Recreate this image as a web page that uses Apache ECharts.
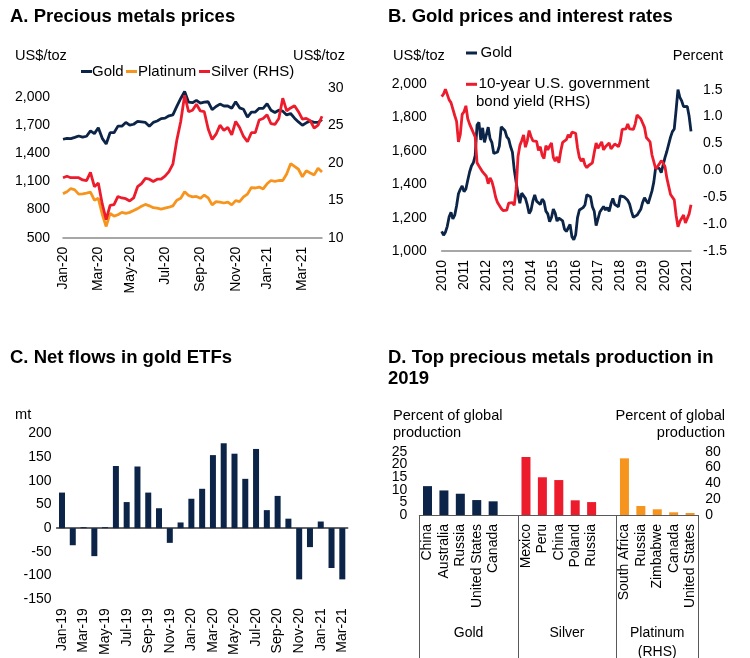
<!DOCTYPE html>
<html>
<head>
<meta charset="utf-8">
<script src="https://cdn.jsdelivr.net/npm/echarts/dist/echarts.min.js"></script>
<style>
  html, body { margin: 0; padding: 0; background: #fff; }
  #chart { width: 750px; height: 658px; }
</style>
</head>
<body>
<div id="chart"></div>
<script>
// ---------- Panel A: weekly precious metals prices (US$/toz), Jan 2020 - Apr 2021 ----------
const priceWeekStart = [2020, 0, 3];
const goldWeekly = [1550,1560,1557,1570,1585,1572,1582,1640,1610,1672,1560,1500,1620,1620,1690,1690,1730,1700,1710,1740,
  1735,1730,1690,1730,1745,1770,1775,1800,1810,1900,1985,2060,1945,1940,1965,1935,1945,1950,1865,1900,
  1925,1905,1905,1880,1950,1885,1870,1785,1840,1840,1880,1880,1930,1860,1835,1860,1850,1810,1825,1775,
  1735,1700,1725,1745,1730,1730,1760];
const platinumWeekly = [970,990,1025,1010,965,968,975,985,900,920,750,620,760,730,745,770,760,770,790,810,
  835,855,840,820,815,805,815,825,840,900,920,990,950,935,940,920,955,925,850,885,
  880,870,880,850,895,885,935,965,1035,1030,1040,1020,1075,1110,1100,1110,1110,1180,1290,1260,
  1230,1150,1215,1190,1170,1240,1200];
const silverWeekly = [18.0,18.2,18.0,18.0,18.0,17.7,17.6,18.7,16.8,17.3,14.5,12.4,14.3,14.4,15.5,15.3,15.2,14.9,15.3,16.8,
  17.2,17.9,17.8,17.5,17.8,17.8,18.2,18.8,19.8,23.0,25.5,29.0,26.8,27.0,27.8,26.9,26.8,24.5,23.1,23.8,
  25.0,24.3,24.7,23.7,25.5,24.7,23.5,22.8,24.0,24.0,25.7,25.9,26.4,25.2,25.1,25.9,28.6,26.9,27.3,27.6,
  26.8,25.8,25.9,25.6,24.6,25.0,26.2];

// ---------- Panel B: monthly gold price (US$/toz) and 10-year yield (percent), Jan 2010 - Mar 2021 ----------
const goldMonthly = [
  1118,1095,1113,1148,1205,1232,1193,1215,1271,1343,1370,1391,
  1356,1372,1424,1474,1510,1529,1573,1756,1772,1666,1739,1652,
  1656,1743,1674,1650,1585,1596,1594,1630,1745,1747,1722,1685,
  1671,1627,1593,1487,1414,1343,1286,1347,1349,1316,1276,1225,
  1244,1300,1336,1299,1288,1279,1311,1296,1239,1223,1176,1201,
  1251,1227,1179,1198,1199,1181,1131,1117,1125,1159,1086,1068,
  1097,1200,1246,1242,1260,1276,1337,1341,1326,1266,1238,1152,
  1192,1234,1231,1267,1246,1260,1237,1283,1315,1280,1282,1265,
  1331,1331,1325,1335,1304,1281,1238,1202,1198,1215,1221,1250,
  1291,1320,1300,1285,1284,1359,1413,1500,1511,1495,1470,1480,
  1560,1597,1592,1683,1716,1732,1847,1968,1922,1900,1866,1858,
  1867,1808,1718];
const bondYield = [
  1.37,1.42,1.51,1.50,1.31,1.26,1.24,1.02,0.91,0.53,0.67,1.04,
  1.09,1.20,0.96,0.86,0.78,0.76,0.62,0.14,0.08,0.07,-0.03,-0.05,
  -0.11,-0.25,-0.14,-0.21,-0.34,-0.50,-0.60,-0.59,-0.71,-0.75,-0.78,-0.74,
  -0.61,-0.58,-0.60,-0.65,-0.36,0.25,0.46,0.55,0.66,0.43,0.55,0.74,
  0.63,0.55,0.56,0.54,0.37,0.44,0.28,0.22,0.46,0.38,0.45,0.51,
  0.24,0.17,0.25,0.14,0.36,0.52,0.52,0.57,0.66,0.61,0.71,0.73,
  0.69,0.42,0.24,0.17,0.22,0.10,0.05,0.09,0.10,0.14,0.33,0.51,
  0.41,0.42,0.53,0.38,0.44,0.43,0.51,0.40,0.37,0.49,0.46,0.44,
  0.54,0.76,0.74,0.77,0.86,0.77,0.76,0.76,0.86,1.03,1.06,0.96,
  0.88,0.80,0.61,0.62,0.53,0.29,0.28,0.03,0.07,0.12,0.18,0.14,
  0.07,-0.14,-0.12,-0.45,-0.42,-0.55,-0.84,-1.05,-0.95,-0.89,-0.83,-0.98,
  -0.99,-0.81,-0.64];

// ---------- Panel C: net flows in gold ETFs (mt) ----------
const etfMonths = ['Jan-19','Feb-19','Mar-19','Apr-19','May-19','Jun-19','Jul-19','Aug-19','Sep-19','Oct-19','Nov-19','Dec-19',
  'Jan-20','Feb-20','Mar-20','Apr-20','May-20','Jun-20','Jul-20','Aug-20','Sep-20','Oct-20','Nov-20','Dec-20',
  'Jan-21','Feb-21','Mar-21'];
const etfFlows = [75,-36,2,-59,2,131,55,130,75,42,-31,12,62,83,154,179,157,104,167,38,68,20,-108,-40,14,-84,-108];

// ---------- Panel D: top producers, percent of global production in 2019 ----------
const goldProducers = ['China','Australia','Russia','United States','Canada'];
const goldShare = [11.4,9.7,8.4,5.9,5.4];
const silverProducers = ['Mexico','Peru','China','Poland','Russia'];
const silverShare = [22.9,14.9,13.8,5.8,5.1];
const platinumProducers = ['South Africa','Russia','Zimbabwe','Canada','United States'];
const platinumShare = [71.6,11.4,7.2,3.4,2.5];
const metalGroupLabels = [['Gold'], ['Silver'], ['Platinum', '(RHS)']];
const shareAxisMax = 25;        // left axis, percent
const shareAxisStep = 5;
const platinumAxisMax = 80;     // right axis, percent
const platinumAxisStep = 20;

// ---------- styling ----------
const FONT = '"Liberation Sans", Arial, Helvetica, sans-serif';
const NAVY = '#0B2447';
const RED = '#EC1C2D';
const ORANGE = '#F7941D';
const AXIS_GREY = '#8a8a8a';
const LINE_W = 2.8;
const MONTHS = ['Jan','Feb','Mar','Apr','May','Jun','Jul','Aug','Sep','Oct','Nov','Dec'];

function withCommas(v) {
  return String(Math.round(v)).replace(/\B(?=(\d{3})+(?!\d))/g, ',');
}

// weekly date categories for panel A
const weekDates = goldWeekly.map((_, i) =>
  new Date(Date.UTC(priceWeekStart[0], priceWeekStart[1], priceWeekStart[2] + 7 * i)).toISOString().slice(0, 10));

// monthly categories for panel B
const yieldMonths = goldMonthly.map((_, i) => {
  const y = 2010 + Math.floor(i / 12), m = i % 12 + 1;
  return y + '-' + String(m).padStart(2, '0');
});

// panel D slots: each metal's producers followed by an empty spacer slot
const productionSlots = [...goldProducers, '', ...silverProducers, ' ', ...platinumProducers];
const silverStart = goldProducers.length + 1;
const platinumStart = silverStart + silverProducers.length + 1;
const groupStarts = [0, silverStart, platinumStart];
const groupEnds = [silverStart - 1, platinumStart - 1, productionSlots.length - 1];
function placeInSlots(values, start) {
  return productionSlots.map((_, i) => (i >= start && i < start + values.length) ? values[i - start] : '-');
}

const labelStyle = { color: '#000', fontSize: 14, fontFamily: FONT };
const noLine = { show: false };
const noTick = { show: false };
const noSplit = { show: false };

// panel D plot box; its left-axis labels sit closer together than one text line,
// so the odd steps (5, 15, 25) come from a twin axis whose range starts one step lower
const gridD = { left: 419.3, top: 451.7, width: 279, height: 63.3 };
const gridDTwin = { left: gridD.left, top: gridD.top, width: gridD.width,
  height: gridD.height * (shareAxisMax + shareAxisStep) / shareAxisMax };

const chart = echarts.init(document.getElementById('chart'), null, { renderer: 'canvas' });

chart.setOption({
  animation: false,
  backgroundColor: '#fff',
  grid: [
    { left: 63, top: 87.7, width: 259, height: 150 },
    { left: 441.7, top: 84.3, width: 249.3, height: 166.7 },
    { left: 56.6, top: 433.3, width: 291.1, height: 166 },
    gridD,
    gridDTwin
  ],
  xAxis: [
    { gridIndex: 0, type: 'category', data: weekDates, boundaryGap: false,
      axisLine: { show: true, onZero: false, lineStyle: { color: AXIS_GREY, width: 1.5 } }, axisTick: noTick,
      axisLabel: Object.assign({}, labelStyle, {
        rotate: 90, margin: 9,
        interval: (i, v) => +v.slice(8, 10) <= 7 && (+v.slice(5, 7)) % 2 === 1,
        formatter: v => MONTHS[+v.slice(5, 7) - 1] + '-' + v.slice(2, 4)
      }) },
    { gridIndex: 1, type: 'category', data: yieldMonths, boundaryGap: false,
      axisLine: { show: true, onZero: false, lineStyle: { color: AXIS_GREY, width: 1.5 } }, axisTick: noTick,
      axisLabel: Object.assign({}, labelStyle, {
        rotate: 90, margin: 9,
        interval: (i, v) => v.slice(5) === '01',
        formatter: v => v.slice(0, 4)
      }) },
    { gridIndex: 2, type: 'category', data: etfMonths, boundaryGap: true,
      axisLine: { show: false, onZero: false }, axisTick: noTick,
      axisLabel: Object.assign({}, labelStyle, { rotate: 90, margin: 9, interval: 1 }) },
    { gridIndex: 3, type: 'category', data: productionSlots, boundaryGap: true,
      axisLine: { show: true, onZero: false, lineStyle: { color: '#595959', width: 1 } },
      axisTick: { show: true, interval: i => groupStarts.indexOf(i) >= 0, length: 143,
        lineStyle: { color: '#595959', width: 1 } },
      axisLabel: Object.assign({}, labelStyle, { rotate: 90, margin: 9, interval: 0 }) },
    // zero line for the ETF flows
    { gridIndex: 2, type: 'category', data: etfMonths, boundaryGap: true,
      axisLine: { show: true, onZero: true, lineStyle: { color: '#333', width: 1.5 } },
      axisTick: noTick, axisLabel: { show: false } },
    // hidden x axis of the twin box
    { gridIndex: 4, type: 'value', show: false }
  ],
  yAxis: [
    { gridIndex: 0, type: 'value', position: 'left', min: 500, max: 2100, interval: 300,
      axisLine: noLine, axisTick: noTick, splitLine: noSplit,
      axisLabel: Object.assign({}, labelStyle, { margin: 13, showMinLabel: true, showMaxLabel: false, formatter: withCommas }) },
    { gridIndex: 0, type: 'value', position: 'right', min: 10, max: 30, interval: 5,
      axisLine: noLine, axisTick: noTick, splitLine: noSplit,
      axisLabel: Object.assign({}, labelStyle, { margin: 6, showMinLabel: true, showMaxLabel: true }) },
    { gridIndex: 1, type: 'value', position: 'left', min: 1000, max: 2000, interval: 200,
      axisLine: noLine, axisTick: noTick, splitLine: noSplit,
      axisLabel: Object.assign({}, labelStyle, { margin: 15, showMinLabel: true, showMaxLabel: true, formatter: withCommas }) },
    { gridIndex: 1, type: 'value', position: 'right', min: -1.5, max: 1.6, interval: 0.5,
      axisLine: noLine, axisTick: noTick, splitLine: noSplit,
      axisLabel: Object.assign({}, labelStyle, { margin: 12, showMinLabel: true, showMaxLabel: false, formatter: v => v.toFixed(1) }) },
    { gridIndex: 2, type: 'value', min: -150, max: 200, interval: 50,
      axisLine: noLine, axisTick: noTick, splitLine: noSplit,
      axisLabel: Object.assign({}, labelStyle, { margin: 5, showMinLabel: true, showMaxLabel: true }) },
    // panel D left: even steps 0, 10, 20
    { gridIndex: 3, type: 'value', position: 'left', min: 0, max: shareAxisMax, interval: 2 * shareAxisStep,
      axisLine: noLine, axisTick: noTick, splitLine: noSplit,
      axisLabel: Object.assign({}, labelStyle, { margin: 12, showMinLabel: true, showMaxLabel: false }) },
    // panel D right (platinum)
    { gridIndex: 3, type: 'value', position: 'right', min: 0, max: platinumAxisMax, interval: platinumAxisStep,
      axisLine: noLine, axisTick: noTick, splitLine: noSplit,
      axisLabel: Object.assign({}, labelStyle, { margin: 7, showMinLabel: true, showMaxLabel: true }) },
    // panel D left twin: odd steps 5, 15, 25
    { gridIndex: 4, type: 'value', position: 'left', min: -shareAxisStep, max: shareAxisMax, interval: 2 * shareAxisStep,
      axisLine: noLine, axisTick: noTick, splitLine: noSplit,
      axisLabel: Object.assign({}, labelStyle, { margin: 12, showMinLabel: false, showMaxLabel: true }) }
  ],
  series: [
    { name: 'Gold', type: 'line', xAxisIndex: 0, yAxisIndex: 0, data: goldWeekly,
      symbol: 'none', lineStyle: { color: NAVY, width: LINE_W }, itemStyle: { color: NAVY } },
    { name: 'Platinum', type: 'line', xAxisIndex: 0, yAxisIndex: 0, data: platinumWeekly,
      symbol: 'none', lineStyle: { color: ORANGE, width: LINE_W }, itemStyle: { color: ORANGE } },
    { name: 'Silver (RHS)', type: 'line', xAxisIndex: 0, yAxisIndex: 1, data: silverWeekly,
      symbol: 'none', lineStyle: { color: RED, width: LINE_W }, itemStyle: { color: RED } },

    { name: 'Gold', type: 'line', xAxisIndex: 1, yAxisIndex: 2, data: goldMonthly,
      symbol: 'none', lineStyle: { color: NAVY, width: LINE_W }, itemStyle: { color: NAVY } },
    { name: '10-year U.S. government bond yield (RHS)', type: 'line', xAxisIndex: 1, yAxisIndex: 3, data: bondYield,
      symbol: 'none', lineStyle: { color: RED, width: LINE_W }, itemStyle: { color: RED } },

    { name: 'Net flows', type: 'bar', xAxisIndex: 2, yAxisIndex: 4, data: etfFlows,
      barWidth: 6, itemStyle: { color: NAVY } },

    { name: 'Gold', type: 'bar', xAxisIndex: 3, yAxisIndex: 5, data: placeInSlots(goldShare, 0),
      barWidth: 9, barGap: '-100%', itemStyle: { color: NAVY } },
    { name: 'Silver', type: 'bar', xAxisIndex: 3, yAxisIndex: 5, data: placeInSlots(silverShare, silverStart),
      barWidth: 9, barGap: '-100%', itemStyle: { color: RED } },
    { name: 'Platinum (RHS)', type: 'bar', xAxisIndex: 3, yAxisIndex: 6, data: placeInSlots(platinumShare, platinumStart),
      barWidth: 9, barGap: '-100%', itemStyle: { color: ORANGE } }
  ]
});

// ---------- titles, units, legends and group labels ----------
function text(str, x, y, opts) {
  const style = Object.assign({
    text: str, font: '14px ' + FONT, fill: '#000',
    align: 'left', verticalAlign: 'middle', textVerticalAlign: 'middle'
  }, opts || {});
  style.textAlign = style.align;
  return { type: 'text', x: x, y: y, silent: true, style: style };
}
function dash(x1, x2, y, color) {
  return { type: 'line', silent: true, shape: { x1: x1, y1: y, x2: x2, y2: y },
    style: { stroke: color, lineWidth: 3 } };
}
const TITLE_FONT = 'bold 18.5px ' + FONT;
const LEGEND_FONT = '15px ' + FONT;
const UNIT_FONT = '14.6px ' + FONT;

const graphics = [
  // Panel A
  text('A. Precious metals prices', 10, 16.5, { font: TITLE_FONT }),
  text('US$/toz', 15, 56, { font: UNIT_FONT }),
  text('US$/toz', 345, 56, { font: UNIT_FONT, align: 'right' }),
  dash(81, 92, 71.5, NAVY), text('Gold', 92, 71.5, { font: LEGEND_FONT }),
  dash(126, 137, 71.5, ORANGE), text('Platinum', 138, 71.5, { font: LEGEND_FONT }),
  dash(199, 210, 71.5, RED), text('Silver (RHS)', 211, 71.5, { font: LEGEND_FONT }),
  // Panel B
  text('B. Gold prices and interest rates', 388, 16.5, { font: TITLE_FONT }),
  text('US$/toz', 393, 56, { font: UNIT_FONT }),
  text('Percent', 723, 56, { font: UNIT_FONT, align: 'right' }),
  dash(466, 477, 53, NAVY), text('Gold', 480.5, 52.5, { font: LEGEND_FONT }),
  dash(466, 477, 84.3, RED), text('10-year U.S. government', 478.5, 84, { font: '15.3px ' + FONT }),
  text('bond yield (RHS)', 476, 101.5, { font: LEGEND_FONT }),
  // Panel C
  text('C. Net flows in gold ETFs', 10, 358, { font: TITLE_FONT }),
  text('mt', 15, 415, { font: UNIT_FONT }),
  // Panel D
  text('D. Top precious metals production in', 388, 357.5, { font: TITLE_FONT }),
  text('2019', 388, 379, { font: TITLE_FONT }),
  text('Percent of global', 393, 415.7, { font: UNIT_FONT }),
  text('production', 393, 433.3, { font: UNIT_FONT }),
  text('Percent of global', 725, 415.7, { font: UNIT_FONT, align: 'right' }),
  text('production', 725, 433.3, { font: UNIT_FONT, align: 'right' })
];

// metal group labels centred under each group of producers
const slotX = i => chart.convertToPixel({ xAxisIndex: 3 }, i);
metalGroupLabels.forEach((lines, g) => {
  const cx = (slotX(groupStarts[g]) + slotX(groupEnds[g])) / 2;
  lines.forEach((line, k) => graphics.push(text(line, cx, 633.3 + k * 18.4, { align: 'center' })));
});

chart.setOption({ graphic: graphics });
</script>
</body>
</html>
